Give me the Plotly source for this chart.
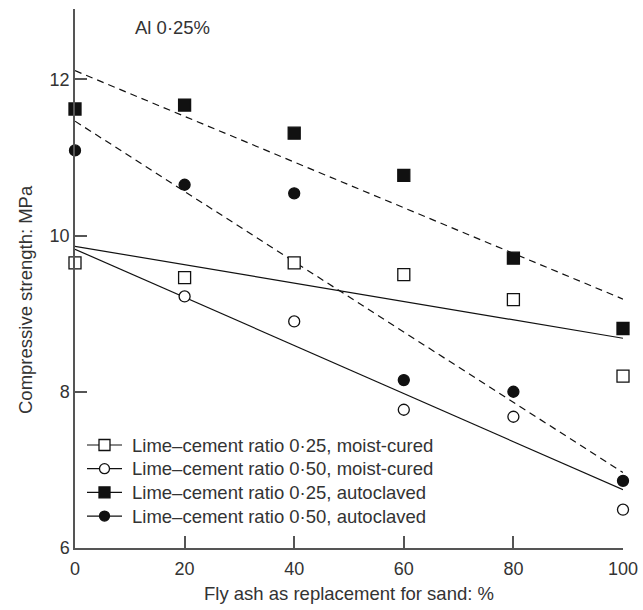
import numpy as np
import plotly.graph_objects as go

fly_ash = [0, 20, 40, 60, 80, 100]
mc_025 = [9.65, 9.46, 9.65, 9.50, 9.18, 8.20]
mc_050 = [9.65, 9.22, 8.90, 7.77, 7.68, 6.49]
ac_025 = [11.62, 11.67, 11.31, 10.77, 9.71, 8.81]
ac_050 = [11.09, 10.65, 10.54, 8.15, 8.00, 6.86]

names = [
    "Lime\u2013cement ratio 0\u00b725, moist-cured",
    "Lime\u2013cement ratio 0\u00b750, moist-cured",
    "Lime\u2013cement ratio 0\u00b725, autoclaved",
    "Lime\u2013cement ratio 0\u00b750, autoclaved",
]
x_title = "Fly ash as replacement for sand: %"
y_title = "Compressive strength: MPa"
note = "Al 0\u00b725%"

INK = "#111111"
AX = "#555555"
TXT = "#333333"
FONT = "Liberation Sans, Arial, sans-serif"
FS = 18
FS_TXT = 18.5

series = [
    (mc_025, "square", "white", 12, "solid"),
    (mc_050, "circle", "white", 11, "solid"),
    (ac_025, "square", INK, 12, "dash"),
    (ac_050, "circle", INK, 11, "dash"),
]

W, H = 643, 610
L, R, T, B = 75, 20, 9, 62
pw, ph = W - L - R, H - T - B


def px(xp):
    return (xp - L) / pw


def py(yp):
    return (H - B - yp) / ph


fig = go.Figure()

# regression lines
xfit = np.array([min(fly_ash), max(fly_ash)], dtype=float)
for ys, sym, fill, size, dash in series:
    k, b = np.polyfit(fly_ash, ys, 1)
    fig.add_trace(go.Scatter(
        x=xfit, y=k * xfit + b, mode="lines",
        line=dict(color=INK, width=1.2, dash="7px,5px" if dash == "dash" else "solid"),
        showlegend=False, hoverinfo="skip", cliponaxis=False))

# data points (circles first so squares cover overlapping circles)
for i in [1, 3, 0, 2]:
    ys, sym, fill, size, dash = series[i]
    fig.add_trace(go.Scatter(
        x=fly_ash, y=ys, mode="markers", name=names[i],
        marker=dict(symbol=sym, size=size, color=fill,
                    line=dict(color=INK, width=1.3)),
        showlegend=False, cliponaxis=False))

# hand-placed legend (pixel layout on an overlay axis)
LEG_X0, LEG_X1, LEG_TX = 87, 122, 130
LEG_Y0, LEG_DY = 445, 23.7
for i, (ys, sym, fill, size, dash) in enumerate(series):
    yy = LEG_Y0 + i * LEG_DY
    fig.add_trace(go.Scatter(
        x=[LEG_X0, LEG_X1], y=[yy, yy], mode="lines",
        line=dict(color=INK, width=1.2), xaxis="x2", yaxis="y2",
        showlegend=False, hoverinfo="skip", cliponaxis=False))
    fig.add_trace(go.Scatter(
        x=[(LEG_X0 + LEG_X1) / 2], y=[yy], mode="markers",
        marker=dict(symbol=sym, size=size - 1, color=fill,
                    line=dict(color=INK, width=1.3)),
        xaxis="x2", yaxis="y2", showlegend=False, hoverinfo="skip",
        cliponaxis=False))
    fig.add_annotation(x=px(LEG_TX), y=py(yy), xref="paper", yref="paper",
                       text=names[i], showarrow=False, xanchor="left",
                       yanchor="middle",
                       font=dict(size=FS_TXT, color=TXT, family=FONT))

axis_common = dict(showgrid=False, zeroline=False, showline=True,
                   linecolor=AX, linewidth=1.5, ticks="inside",
                   ticklen=12, tickwidth=1.5, tickcolor=AX,
                   tickfont=dict(size=FS, color=TXT, family=FONT),
                   mirror=False, automargin=False)

fig.update_layout(
    width=W, height=H,
    margin=dict(l=L, r=R, t=T, b=B),
    plot_bgcolor="white", paper_bgcolor="white",
    font=dict(family=FONT, color=TXT, size=FS),
    xaxis=dict(range=[0, 100], tickvals=[0, 20, 40, 60, 80, 100],
               ticklabelstandoff=4, **axis_common),
    yaxis=dict(range=[6, 12.9], tickvals=[6, 8, 10, 12],
               ticklabelstandoff=0, **axis_common),
    xaxis2=dict(range=[L, W - R], overlaying="x", visible=False,
                fixedrange=True),
    yaxis2=dict(range=[H - B, T], overlaying="y", visible=False,
                fixedrange=True),
    showlegend=False,
)

fig.add_annotation(x=px(133), y=py(28), xref="paper", yref="paper",
                   text=note, showarrow=False, xanchor="left",
                   yanchor="middle",
                   font=dict(size=FS_TXT, color=TXT, family=FONT))
fig.add_annotation(x=px(349), y=py(593), xref="paper", yref="paper",
                   text=x_title, showarrow=False, xanchor="center",
                   yanchor="middle",
                   font=dict(size=FS_TXT, color=TXT, family=FONT))
fig.add_annotation(x=px(25), y=py(300), xref="paper", yref="paper",
                   text=y_title, showarrow=False, textangle=-90,
                   xanchor="center", yanchor="middle",
                   font=dict(size=FS_TXT, color=TXT, family=FONT))

fig.write_html("out.html", config={"displayModeBar": False},
               post_script="document.body.style.margin='0';")
